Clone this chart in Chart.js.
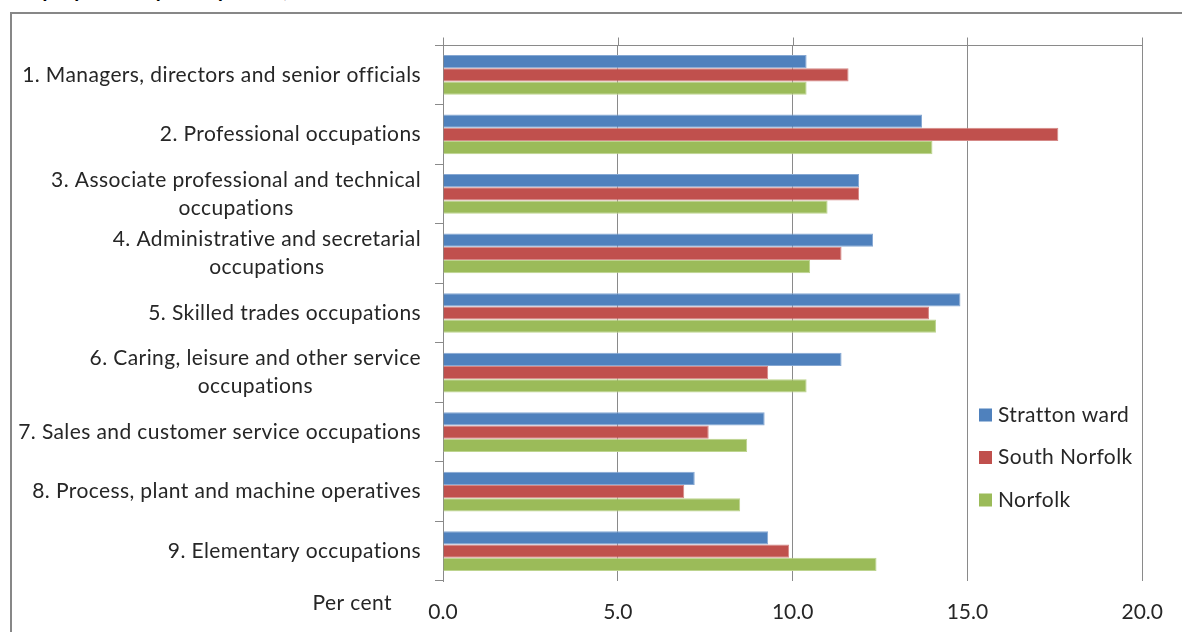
<!DOCTYPE html>
<html>
<head>
<meta charset="utf-8">
<title>Employment by occupation</title>
<script src="https://cdn.jsdelivr.net/npm/chart.js@4.4.1/dist/chart.umd.min.js"></script>
<style>
  html, body { margin: 0; padding: 0; background: #fff; overflow: hidden; }
  #wrap { position: relative; width: 1182px; height: 632px; overflow: hidden; }
  #title { position: absolute; left: 12px; top: -24px; font: italic 600 24px Lato, sans-serif; line-height: 24px; color: #000; white-space: nowrap; }
  #frame { position: absolute; left: 10px; top: 12px; width: 1240px; height: 700px; border: 2px solid #878787; box-sizing: border-box; }
  #chart { position: absolute; left: 0; top: 0; }
</style>
</head>
<body>
<div id="wrap">
  <div id="title">Employment by occupation, 2011</div>
  <div id="frame"></div>
  <canvas id="chart" width="1182" height="632"></canvas>
</div>
<script>
// occupation groups (multi-line labels as arrays)
const categories = [
  ["1. Managers, directors and senior officials"],
  ["2. Professional occupations"],
  ["3. Associate professional and technical", "occupations"],
  ["4. Administrative and secretarial", "occupations"],
  ["5. Skilled trades occupations"],
  ["6. Caring, leisure and other service", "occupations"],
  ["7. Sales and customer service occupations"],
  ["8. Process, plant and machine operatives"],
  ["9. Elementary occupations"]
];

// per cent of people in employment
const strattonWard = [10.4, 13.7, 11.9, 12.3, 14.8, 11.4, 9.2, 7.2, 9.3];
const southNorfolk = [11.6, 17.6, 11.9, 11.4, 13.9, 9.3, 7.6, 6.9, 9.9];
const norfolk      = [10.4, 14.0, 11.0, 10.5, 14.1, 10.4, 8.7, 8.5, 12.4];

const seriesNames = ["Stratton ward", "South Norfolk", "Norfolk"];
const xTicks = [0, 5, 10, 15, 20];

const textColor = "#262626";
const gridColor = "#8a8a8a";
const fontFamily = "Lato, 'Open Sans', sans-serif";
const fontSize = 21;

// draws the category labels (wrapped lines centred under the widest line),
// the value axis line along the top, the "Per cent" caption and the legend
const excelBits = {
  id: "excelBits",
  afterDraw(chart) {
    const { ctx, chartArea, scales } = chart;
    const x = scales.x, y = scales.y;
    ctx.save();

    ctx.strokeStyle = gridColor;
    ctx.lineWidth = 1;
    ctx.beginPath();
    const top = Math.round(chartArea.top) + 0.5;
    ctx.moveTo(chartArea.left, top);
    ctx.lineTo(chartArea.right, top);
    x.ticks.forEach((t) => {
      const px = Math.round(x.getPixelForValue(t.value)) + 0.5;
      ctx.moveTo(px, top - 8);
      ctx.lineTo(px, top);
    });
    ctx.stroke();

    ctx.font = fontSize + "px " + fontFamily;
    ctx.letterSpacing = "0.4px"; // also keeps "ti" from joining
    ctx.fillStyle = textColor;
    ctx.textBaseline = "middle";
    ctx.textAlign = "center";
    const labelRight = y.right - 22;
    const lineHeight = 28;
    chart.data.labels.forEach((lines, i) => {
      const cy = y.getPixelForTick(i);
      const w = Math.max(...lines.map((l) => ctx.measureText(l).width));
      const cx = labelRight - w / 2;
      lines.forEach((l, j) => {
        ctx.fillText(l, cx, cy + (j - (lines.length - 1) / 2) * lineHeight);
      });
    });

    ctx.textAlign = "right";
    ctx.fillText("Per cent", chartArea.left - 51, chartArea.bottom + 22);

    // legend
    ctx.textAlign = "left";
    chart.data.datasets.forEach((ds, i) => {
      const cy = 415 + i * 42.5;
      ctx.fillStyle = ds.backgroundColor;
      ctx.fillRect(979, cy - 6.5, 13, 13);
      ctx.fillStyle = textColor;
      ctx.fillText(ds.label, 998, cy);
    });

    ctx.restore();
  }
};

new Chart(document.getElementById("chart"), {
  type: "bar",
  data: {
    labels: categories,
    datasets: [
      { label: seriesNames[0], data: strattonWard, backgroundColor: "#4f81bd", borderColor: "#86a8d3" },
      { label: seriesNames[1], data: southNorfolk, backgroundColor: "#c0504d", borderColor: "#d58987" },
      { label: seriesNames[2], data: norfolk, backgroundColor: "#9bbb59", borderColor: "#bdd48f" }
    ]
  },
  options: {
    indexAxis: "y",
    responsive: false,
    animation: false,
    devicePixelRatio: 1,
    categoryPercentage: 0.667,
    barPercentage: 1.0,
    datasets: { bar: { borderWidth: 1, borderSkipped: "start" } },
    layout: { padding: { top: 45, right: 35, bottom: 0, left: 0 } },
    plugins: {
      legend: { display: false },
      tooltip: { enabled: false }
    },
    scales: {
      x: {
        min: 0,
        max: 20,
        afterBuildTicks: (scale) => { scale.ticks = xTicks.map((v) => ({ value: v })); },
        ticks: {
          callback: (v) => Number(v).toFixed(1),
          color: textColor,
          font: { family: fontFamily, size: fontSize },
          padding: 19,
          maxRotation: 0
        },
        grid: { color: gridColor, drawTicks: false, lineWidth: 1 },
        border: { display: false },
        afterFit: (scale) => { scale.height = 51; }
      },
      y: {
        ticks: { display: false },
        grid: { offset: true, drawOnChartArea: false, drawTicks: true, tickLength: 8, color: gridColor },
        border: { display: true, color: gridColor },
        afterFit: (scale) => { scale.width = 443; }
      }
    }
  },
  plugins: [excelBits]
});
</script>
</body>
</html>
